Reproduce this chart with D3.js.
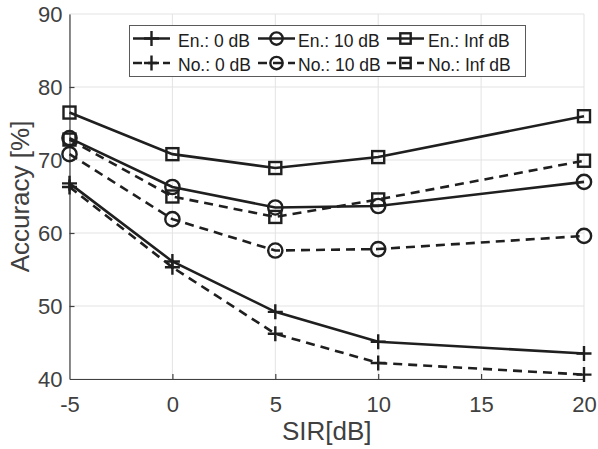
<!DOCTYPE html>
<html><head><meta charset="utf-8">
<script src="https://cdn.jsdelivr.net/npm/d3@7"></script>
<style>body{margin:0;background:#fff}svg{display:block}</style>
</head><body>
<script>
const sir = [-5, 0, 5, 10, 20];
const en0 = [66.8, 56.1, 49.2, 45.1, 43.5];
const no0 = [66.3, 55.3, 46.2, 42.2, 40.6];
const en10 = [73.0, 66.3, 63.5, 63.7, 67.0];
const no10 = [70.8, 61.9, 57.6, 57.8, 59.6];
const enInf = [76.5, 70.8, 68.9, 70.4, 76.0];
const noInf = [72.8, 65.0, 62.2, 64.6, 69.9];
const xTicks = [-5, 0, 5, 10, 15, 20];
const yTicks = [40, 50, 60, 70, 80, 90];

const series = [
  {name: "En.: 0 dB", vals: en0, marker: "plus", dash: false},
  {name: "No.: 0 dB", vals: no0, marker: "plus", dash: true},
  {name: "En.: 10 dB", vals: en10, marker: "circle", dash: false},
  {name: "No.: 10 dB", vals: no10, marker: "circle", dash: true},
  {name: "En.: Inf dB", vals: enInf, marker: "square", dash: false},
  {name: "No.: Inf dB", vals: noInf, marker: "square", dash: true}
];

const W = 598, H = 449;
const m = {left: 69.5, right: 584, top: 14, bottom: 379};
const font = "'Liberation Sans', Arial, Helvetica, sans-serif";
const axisCol = "#404040", lineCol = "#1f1f1f";

const svg = d3.select("body").append("svg").attr("width", W).attr("height", H)
  .style("font-family", font);

const x = d3.scaleLinear().domain([-5, 20]).range([m.left, m.right]);
const y = d3.scaleLinear().domain([40, 90]).range([m.bottom, m.top]);

// grid
const g = svg.append("g");
g.selectAll(".gx").data(xTicks).enter().append("line")
  .attr("x1", d => x(d)).attr("x2", d => x(d)).attr("y1", m.top).attr("y2", m.bottom)
  .attr("stroke", "#e3e3e3").attr("stroke-width", 1);
g.selectAll(".gy").data(yTicks).enter().append("line")
  .attr("y1", d => y(d)).attr("y2", d => y(d)).attr("x1", m.left).attr("x2", m.right)
  .attr("stroke", "#e3e3e3").attr("stroke-width", 1);

// axes
const fmt = d => String(d);
const xAxis = d3.axisBottom(x).tickValues(xTicks).tickFormat(fmt).tickSizeInner(-5).tickSizeOuter(0).tickPadding(17);
const yAxis = d3.axisLeft(y).tickValues(yTicks).tickFormat(fmt).tickSizeInner(-5).tickSizeOuter(0).tickPadding(7);
const gx = svg.append("g").attr("transform", `translate(0,${m.bottom})`).call(xAxis);
const gy = svg.append("g").attr("transform", `translate(${m.left},0)`).call(yAxis);
[gx, gy].forEach(a => {
  a.select(".domain").attr("stroke", axisCol).attr("stroke-width", 1.2);
  a.selectAll(".tick line").attr("stroke", axisCol).attr("stroke-width", 1.2);
  a.selectAll(".tick text").attr("fill", axisCol).style("font-size", "22px").style("font-family", font);
});
gy.selectAll(".tick line").filter(d => d === 90 || d === 40).remove();
gx.selectAll(".tick line").filter(d => d === -5 || d === 20).remove();

// axis titles
svg.append("text").attr("x", x(7.5)).attr("y", 440).attr("text-anchor", "middle")
  .attr("fill", axisCol).style("font-size", "26px").text("SIR[dB]");
svg.append("text").attr("transform", `translate(29,${(m.top + m.bottom) / 2}) rotate(-90)`)
  .attr("text-anchor", "middle").attr("fill", axisCol).style("font-size", "26px").text("Accuracy [%]");

function drawMarker(sel, type, cx, cy, s) {
  if (type === "plus") {
    sel.append("path").attr("d", `M${cx - s},${cy}H${cx + s}M${cx},${cy - s}V${cy + s}`)
      .attr("stroke", lineCol).attr("stroke-width", 2.4).attr("fill", "none");
  } else if (type === "circle") {
    sel.append("circle").attr("cx", cx).attr("cy", cy).attr("r", s * 0.95)
      .attr("stroke", lineCol).attr("stroke-width", 2.4).attr("fill", "none");
  } else {
    const h = s * 0.8;
    sel.append("rect").attr("x", cx - h).attr("y", cy - h).attr("width", 2 * h).attr("height", 2 * h)
      .attr("stroke", lineCol).attr("stroke-width", 2.4).attr("fill", "none");
  }
}

const line = d3.line().x((d, i) => x(sir[i])).y(d => y(d));
series.forEach(s => {
  const gs = svg.append("g");
  gs.append("path").attr("d", line(s.vals)).attr("fill", "none")
    .attr("stroke", lineCol).attr("stroke-width", 2.6)
    .attr("stroke-dasharray", s.dash ? "9,6" : null);
  s.vals.forEach((v, i) => drawMarker(gs, s.marker, x(sir[i]), y(v), 7.5));
});

// legend
const lg = svg.append("g");
lg.append("rect").attr("x", 129.5).attr("y", 25.5).attr("width", 396).attr("height", 51)
  .attr("fill", "#fff").attr("stroke", "#5a5a5a").attr("stroke-width", 1);
const colX = [133, 258, 387];
const txtX = [178, 298, 428];
const rowY = [38.5, 63];
series.forEach((s, k) => {
  const c = Math.floor(k / 2), r = k % 2;
  const x0 = colX[c], yy = rowY[r], len = 37;
  lg.append("line").attr("x1", x0).attr("x2", x0 + len).attr("y1", yy).attr("y2", yy)
    .attr("stroke", lineCol).attr("stroke-width", 2.6)
    .attr("stroke-dasharray", s.dash ? "9,6" : null);
  drawMarker(lg, s.marker, x0 + len / 2, yy, s.marker === "plus" ? 7.5 : 6.5);
  lg.append("text").attr("x", txtX[c]).attr("y", yy + 8)
    .attr("fill", "#202020").style("font-size", "17.5px").text(s.name);
});
</script>
</body></html>
